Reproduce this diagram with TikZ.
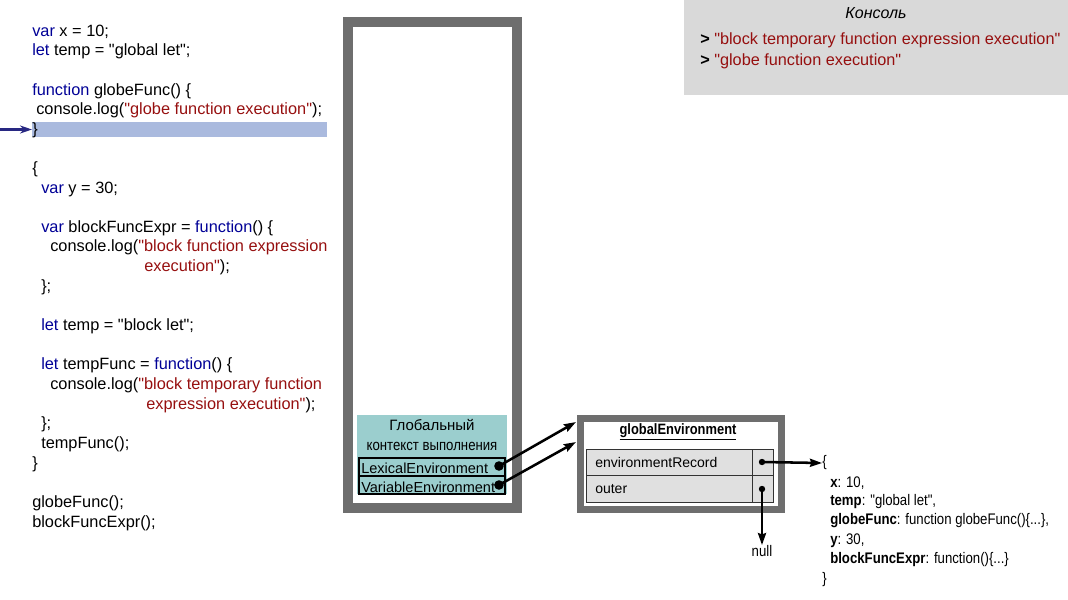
\documentclass[tikz,border=0pt]{standalone}
\usepackage{fontspec}
\newfontfamily\codefont{Liberation Sans}
\newfontfamily\narrowfont{Liberation Sans}[FakeStretch=0.86]
\usetikzlibrary{arrows.meta}
\definecolor{kwblue}{RGB}{0,0,150}
\definecolor{strred}{RGB}{150,15,15}
\definecolor{ptrblue}{RGB}{40,40,130}
\definecolor{framegray}{RGB}{110,110,110}
\definecolor{hlblue}{RGB}{170,186,222}
\definecolor{ctxteal}{RGB}{155,206,206}
\definecolor{cellgray}{RGB}{224,224,224}
\definecolor{consolegray}{RGB}{217,217,217}
\newcommand{\jskw}[1]{\textcolor{kwblue}{#1}}
\newcommand{\jsstr}[1]{\textcolor{strred}{#1}}

\begin{document}
\begin{tikzpicture}[x=0.75pt, y=-0.75pt,
  every node/.style={inner sep=0pt},
  code/.style={anchor=west, yshift=-1pt, font=\codefont\fontsize{12.25}{14}\selectfont},
  small/.style={font=\narrowfont\fontsize{11.5}{13}\selectfont},
  cell/.style={draw=black!80, fill=cellgray, line width=0.6pt},
  ptr/.style={line width=1.9pt, -{Stealth[length=9pt, width=6pt, inset=1pt]}}]
\useasboundingbox (0,0) rectangle (1068,600);

\fill[hlblue] (32,122) rectangle (327,137);

\foreach \y/\x/\t [count=\i] in {
  31/32/{\jskw{var} x = 10;},
  50/32/{\jskw{let} temp = "global let";},
  90/32/{\jskw{function} globeFunc() \{},
  109/36/{console.log(\jsstr{"globe function execution"});},
  129/32/{\}},
  168/32/{\{},
  188/41/{\jskw{var} y = 30;},
  227/41/{\jskw{var} blockFuncExpr = \jskw{function}() \{},
  246/50/{console.log(\jsstr{"block function expression}},
  266/144/{\jsstr{execution"});},
  286/41/{\};},
  325/41/{\jskw{let} temp = "block let";},
  364/41/{\jskw{let} tempFunc = \jskw{function}() \{},
  384/50/{console.log(\jsstr{"block temporary function}},
  404/146/{\jsstr{expression execution"});},
  423/41/{\};},
  443/41/{tempFunc();},
  463/32/{\}},
  502/32/{globeFunc();},
  522/32/{blockFuncExpr();}} {
 \node[code] (c\i) at (\x,\y) {\t};
}

\coordinate (arrowstart) at (0,129.5);
\draw[ptrblue, line width=2pt, -{Stealth[length=9pt, width=6pt]}] (arrowstart) -- (c5.west |- arrowstart);

% call stack
\draw[framegray, line width=7.5pt, fill=white] (348,22) rectangle (517,508);

\fill[ctxteal] (357,415) rectangle (507,494);
\node[font=\codefont\fontsize{11.25}{13}\selectfont] (ctxtitle) at (432,425) {Глобальный};
\node[font=\narrowfont\fontsize{11.5}{13}\selectfont] (ctxsub) at (432,446) {контекст выполнения};
\node[draw, line width=0.8pt, minimum width=109.5pt, minimum height=13.5pt] (lexrow) at (432,467) {};
\node[draw, line width=0.8pt, minimum width=109.5pt, minimum height=13.5pt] (varrow) at (432,485) {};
\node[code, font=\codefont\fontsize{10.9}{13}\selectfont] (lextext) at (361,467) {LexicalEnvironment};
\node[code, font=\codefont\fontsize{10.9}{13}\selectfont] (vartext) at (361,486) {VariableEnvironment};
\coordinate (lexdot) at (499,466);
\coordinate (vardot) at (499,485);
\fill (lexdot) circle (3.6pt);
\fill (vardot) circle (3.6pt);

% lexical environment record
\draw[framegray, line width=5.25pt, fill=white] (580.5,418.5) rectangle (781.5,509.5);
\node[font=\narrowfont\bfseries\fontsize{11.25}{13}\selectfont] (getitle) at (678,432) {\underline{globalEnvironment}};
\draw[cell] (586,449) rectangle (752,475);
\draw[cell] (752,449) rectangle (773,475);
\draw[cell] (586,475) rectangle (752,502);
\draw[cell] (752,475) rectangle (773,502);
\node[code, font=\codefont\fontsize{10.5}{12}\selectfont] (envrec) at (595,461) {environmentRecord};
\node[code, font=\codefont\fontsize{10.5}{12}\selectfont] (outer) at (595,488) {outer};
\coordinate (recdot) at (762,462);
\coordinate (outerdot) at (762,489);
\fill (recdot) circle (2.4pt);
\fill (outerdot) circle (2.4pt);

\coordinate (gein1) at (576,422);
\coordinate (gein2) at (576,442);
\draw[ptr] (lexdot) -- (gein1);
\draw[ptr] (vardot) -- (gein2);

\node[small] (null) at (762,551) {null};
\draw[ptr] (outerdot) -- (null.north);

\node[small, anchor=west] (obj1) at (822,463) {\{};
\node[small, anchor=west] (obj2) at (830,483) {\textbf{x}: 10,};
\node[small, anchor=west] (obj3) at (830,502) {\textbf{temp}: "global let",};
\node[small, anchor=west] (obj4) at (830,521) {\textbf{globeFunc}: function globeFunc()\{...\},};
\node[small, anchor=west] (obj5) at (830,541) {\textbf{y}: 30,};
\node[small, anchor=west] (obj6) at (830,560) {\textbf{blockFuncExpr}: function()\{...\}};
\node[small, anchor=west] (obj7) at (822,580) {\}};
\draw[ptr] (recdot) -- (obj1.west);

% console
\fill[consolegray] (684,0) rectangle (1068,95);
\node[font=\codefont\itshape\fontsize{12}{14}\selectfont] (contitle) at (876,13) {Консоль};
\node[code, font=\codefont\fontsize{12.2}{14}\selectfont] (out1) at (700,39) {\textbf{>} \jsstr{"block temporary function expression execution"}};
\node[code, font=\codefont\fontsize{12.2}{14}\selectfont] (out2) at (700,60) {\textbf{>} \jsstr{"globe function execution"}};

\end{tikzpicture}
\end{document}
